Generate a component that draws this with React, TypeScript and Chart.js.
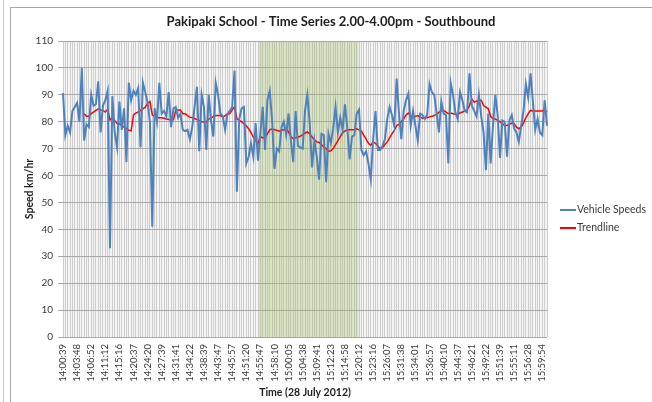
import React, { useEffect, useRef } from "react";
import { Chart, registerables } from "chart.js";

Chart.register(...registerables);

const TITLE = "Pakipaki School - Time Series 2.00-4.00pm - Southbound";
const X_TITLE = "Time (28 July 2012)";
const Y_TITLE = "Speed km/hr";
const SERIES_SPEED = "Vehicle Speeds";
const SERIES_TREND = "Trendline";

// Visible axis labels (one every LABEL_EVERY categories)
const TICK_LABELS = [
  "14:00:39", "14:03:48", "14:06:52", "14:11:12", "14:15:16", "14:20:37", "14:24:20",
  "14:27:39", "14:31:41", "14:34:22", "14:38:39", "14:43:47", "14:45:57", "14:51:20",
  "14:55:47", "14:58:10", "15:00:05", "15:04:38", "15:09:41", "15:12:23", "15:14:58",
  "15:20:12", "15:23:16", "15:26:07", "15:31:38", "15:34:01", "15:36:57", "15:40:10",
  "15:44:37", "15:46:21", "15:49:22", "15:51:39", "15:55:11", "15:56:28", "15:59:54",
];
const LABEL_EVERY = 6;

// Shaded period (school zone time)
const SHADE_FROM = "14:55:47";
const SHADE_TO = "15:20:12";

// Vehicle speeds (km/hr)
const SPEEDS = [
  90.7, 75, 78.5, 76, 84, 85.5, 87, 80, 100, 73,
  79, 78, 90, 86, 86.5, 95, 76, 86, 88, 91.5,
  33, 89.5, 76, 70.5, 87.5, 77, 85, 65, 94.5, 88,
  91.5, 90, 92.5, 70.5, 94.5, 91, 87, 80, 41, 85,
  80, 94.5, 83, 84, 82, 91, 78, 85, 85.5, 81.5,
  83, 77, 76.5, 77, 73.5, 78, 85.5, 93, 69, 90,
  85.5, 69.5, 90, 80.5, 74.5, 94.5, 90, 83, 82, 77,
  83, 84, 85.5, 99, 54, 81, 85, 85.5, 64.5, 67,
  72, 67, 79.5, 65.5, 75.5, 85.5, 69.5, 88, 91.5, 80.5,
  62.5, 70, 69, 78, 80, 75, 83, 73, 65, 84,
  71, 70.5, 70, 84, 90, 79.5, 63, 73, 67, 58.5,
  75.5, 75, 57.5, 75.5, 72, 77.5, 85.5, 76, 81.5, 77,
  86.5, 77.5, 66, 74.5, 75, 83, 84.5, 69.5, 67.5, 69,
  64.5, 58.5, 73.5, 84, 69.5, 69.5, 71, 73.5, 81, 85.5,
  82.5, 78.5, 96, 83, 73.5, 84, 88, 90.5, 78.5, 84,
  78.5, 73, 83, 82.5, 81, 82.5, 94, 91, 90, 83.5,
  76, 87.5, 83, 82.5, 64.5, 94.5, 90, 83.5, 81, 91,
  88, 84, 83.5, 98, 86, 84, 82, 90, 82, 76,
  62, 83, 64.5, 78.5, 90, 82.5, 66.5, 80.5, 80, 67,
  80.5, 82.5, 77.5, 76, 72.5, 78.5, 84, 94, 89, 98,
  87.5, 77, 81, 76, 75, 88, 78.5,
];

// Moving-average trendline
const TREND = [
  null, null, null, null, null, null, null, null, null, 83,
  82, 82, 83, 83.6, 84.2, 84.8, 84.4, 84.2, 83.6, 84.6,
  80.7, 81.5, 80.5, 79.3, 79.3, 78.6, 78, 77.4, 76.8, 76.6,
  82.5, 83.2, 83.6, 84.2, 84.8, 85.4, 86.9, 87.5, 82.5, 82,
  81.5, 81.5, 81.5, 81.3, 81, 80.8, 80.7, 80.7, 84.4, 84.4,
  84.4, 83, 83, 82.3, 81.7, 81.5, 81.2, 80.8, 80.5, 80,
  79.9, 79.9, 81, 81.3, 82, 82.3, 82.3, 82.3, 81.7, 82.3,
  82.8, 83, 84.4, 85.5, 81.1, 80.5, 80, 79.3, 78.5, 77.4,
  76, 74.3, 73, 72, 74.5, 74, 74.3, 75.5, 77, 77.4,
  77, 76.8, 76.5, 76.8, 77, 77.4, 76.2, 74.5, 73.7, 74,
  74.3, 74.6, 75.2, 75.8, 76.2, 75.5, 74.3, 73.3, 72.5, 72.3,
  71.5, 70.6, 70, 69, 69.2, 70, 71.5, 73, 74.5, 76,
  76.5, 77, 77, 77, 77, 77.4, 77, 76.5, 75, 73.5,
  72, 71.2, 72.5, 72, 71, 70, 70.4, 71.5, 72.5, 74,
  75.5, 76.8, 78.6, 79, 80, 81, 82.5, 83.2, 82.3, 81.8,
  82, 82.3, 81.7, 81.3, 81.5, 81.5, 81.8, 82, 82.3, 82.8,
  83.5, 84, 84.2, 83.6, 83, 83.2, 83, 82.8, 82.7, 83.3,
  83.6, 84, 84.4, 86, 88.5, 87.3, 87.6, 87.9, 88, 86,
  85.4, 84.8, 82, 81.1, 81, 80.5, 80, 79.3, 78.6, 78.6,
  79, 79.5, 79.3, 78, 77.4, 78, 79.5, 81.5, 83, 84.2,
  84, 84, 84, 84, 84, 84.4, 83.6,
];

const Y_MIN = 0;
const Y_MAX = 110;
const Y_STEP = 10;

const CATEGORIES = SPEEDS.map((_, i) =>
  i % LABEL_EVERY === 0 && TICK_LABELS[i / LABEL_EVERY] ? TICK_LABELS[i / LABEL_EVERY] : ""
);

const FONT = "Lato, 'Noto Sans', sans-serif";
const BLUE = "#4F81BD";
const RED = "#FF0000";
const TEXT = "#3a3a3a";

const plotPlugin = {
  id: "plotDecor",
  beforeDraw(chart: any) {
    const { ctx, chartArea: a } = chart;
    ctx.save();
    ctx.fillStyle = "#f5f5f5";
    ctx.fillRect(a.left, a.top, a.right - a.left, a.bottom - a.top);
    ctx.restore();
  },
  beforeDatasetsDraw(chart: any) {
    const { ctx, chartArea: a } = chart;
    const x = chart.scales.x;
    const i0 = CATEGORIES.indexOf(SHADE_FROM);
    const i1 = CATEGORIES.indexOf(SHADE_TO);
    if (i0 < 0 || i1 < 0) return;
    const step = x.getPixelForValue(1) - x.getPixelForValue(0);
    const x0 = x.getPixelForValue(i0) - step * 0.6;
    const x1 = x.getPixelForValue(i1) - step * 0.2;
    ctx.save();
    ctx.fillStyle = "rgba(155,187,89,0.3)";
    ctx.fillRect(x0, a.top, x1 - x0, a.bottom - a.top);
    ctx.restore();
  },
  afterDraw(chart: any) {
    const { ctx, chartArea: a } = chart;
    const yMid = (a.top + a.bottom) / 2 + 21;
    ctx.save();
    chart.data.datasets.forEach((ds: any, k: number) => {
      const y = yMid + k * 18;
      ctx.strokeStyle = ds.borderColor;
      ctx.lineWidth = 2;
      ctx.beginPath();
      ctx.moveTo(a.right + 13, y);
      ctx.lineTo(a.right + 29, y);
      ctx.stroke();
      ctx.fillStyle = TEXT;
      ctx.font = `10.5px ${FONT}`;
      ctx.textBaseline = "middle";
      ctx.textAlign = "left";
      ctx.fillText(ds.label, a.right + 30, y);
    });
    ctx.restore();
  },
};

export default function App() {
  const ref = useRef<HTMLCanvasElement | null>(null);

  useEffect(() => {
    if (!ref.current) return;
    const chart = new Chart(ref.current, {
      type: "line",
      data: {
        labels: CATEGORIES,
        datasets: [
          {
            label: SERIES_SPEED,
            data: SPEEDS,
            borderColor: BLUE,
            backgroundColor: BLUE,
            borderWidth: 2,
            pointRadius: 0,
            tension: 0,
            yAxisID: "y",
          },
          {
            label: SERIES_TREND,
            data: TREND,
            borderColor: RED,
            backgroundColor: RED,
            borderWidth: 1.5,
            pointRadius: 0,
            tension: 0,
            yAxisID: "y",
          },
        ],
      },
      options: {
        animation: false,
        responsive: false,
        maintainAspectRatio: false,
        layout: { padding: { left: 10, right: 0, top: 0, bottom: 0 } },
        plugins: {
          legend: { display: false },
          tooltip: { enabled: false },
          title: {
            display: true,
            text: TITLE,
            color: "#1e1e1e",
            font: { family: FONT, size: 13, weight: "bold", lineHeight: 1.2 },
            padding: { top: 13.7, bottom: 11.7 },
          },
        },
        scales: {
          x: {
            type: "category",
            offset: false,
            grid: { display: true, color: "#cdcdcd", lineWidth: 1, drawTicks: false },
            border: { display: false },
            ticks: {
              autoSkip: false,
              minRotation: 90,
              maxRotation: 90,
              padding: 7,
              color: TEXT,
              font: { family: FONT, size: 9.5 },
            },
            title: {
              display: true,
              text: X_TITLE,
              color: "#1e1e1e",
              font: { family: FONT, size: 10.5, weight: "bold", lineHeight: 1.2 },
              padding: { top: 0, bottom: 3.2 },
            },
            afterFit: (s: any) => {
              s.height = 65;
            },
          },
          y: {
            type: "linear",
            position: "left",
            min: Y_MIN,
            max: Y_MAX,
            grid: { color: "#a8a8a8", lineWidth: 1, drawTicks: true, tickLength: 5 },
            border: { display: false },
            ticks: {
              stepSize: Y_STEP,
              padding: 5,
              color: TEXT,
              font: { family: FONT, size: 10 },
            },
            title: {
              display: true,
              text: Y_TITLE,
              color: "#1e1e1e",
              font: { family: FONT, size: 10.5, weight: "bold", lineHeight: 1.2 },
              padding: { top: 13.7, bottom: 0 },
            },
            afterFit: (s: any) => {
              s.width = 53;
            },
          },
          legendSpace: {
            type: "linear",
            position: "right",
            display: true,
            grid: { display: false, drawTicks: false },
            border: { display: false },
            ticks: { display: false },
            afterFit: (s: any) => {
              s.width = 105;
            },
          },
        },
      },
      plugins: [plotPlugin],
    } as any);
    return () => chart.destroy();
  }, []);

  return (
    <div
      style={{
        position: "fixed",
        left: 0,
        top: 0,
        width: 652,
        height: 402,
        background: "#ffffff",
        overflow: "hidden",
      }}
    >
      <canvas
        ref={ref}
        width={652}
        height={402}
        style={{ position: "absolute", left: 0, top: 0, width: 652, height: 402 }}
      />
      <div
        style={{
          position: "absolute",
          left: 3,
          top: 0,
          width: 1,
          height: 402,
          background: "#c8c8c8",
          pointerEvents: "none",
        }}
      />
      <div
        style={{
          position: "absolute",
          left: 10,
          top: 7,
          width: 660,
          height: 420,
          borderLeft: "1px solid #a6a6a6",
          borderTop: "1px solid #a6a6a6",
          pointerEvents: "none",
        }}
      />
    </div>
  );
}
